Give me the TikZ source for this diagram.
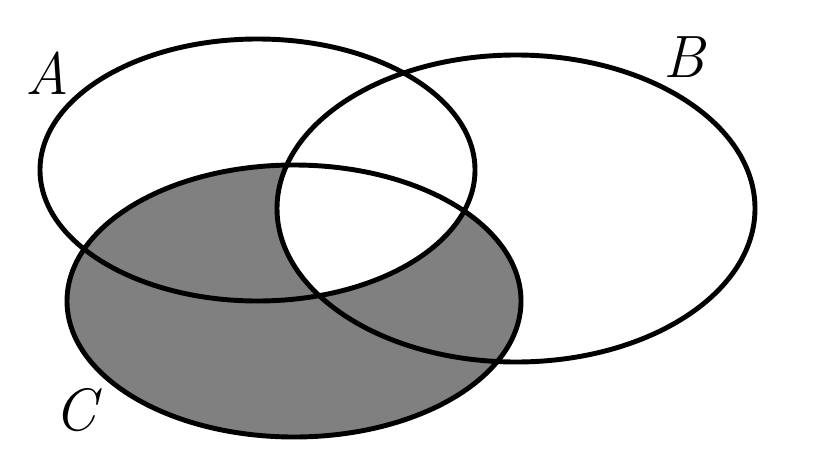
\documentclass[tikz,border=0pt]{standalone}
\usepackage{tikz}

\begin{document}
\begin{tikzpicture}[
		setline/.style={line width=2.8pt, color=black},
		setlabel/.style={font=\fontsize{34}{40}\selectfont\itshape, inner sep=0pt}
	]
			%%%%% START %%%%%
			\useasboundingbox (0, 0) rectangle (16.38, 9.2);
			
			% shaded part: C without the common part of A and B
			\fill[color=black!50] (5.88, 3.18) ellipse [x radius=4.54, y radius=2.72];
			\begin{scope}
				\clip (5.15, 5.80) ellipse [x radius=4.35, y radius=2.62];
				\fill[color=white] (10.32, 5.03) ellipse [x radius=4.78, y radius=3.07];
			\end{scope}
			
			\draw[setline] (5.15, 5.80) ellipse [x radius=4.35, y radius=2.62];
			\draw[setline] (10.32, 5.03) ellipse [x radius=4.78, y radius=3.07];
			\draw[setline] (5.88, 3.18) ellipse [x radius=4.54, y radius=2.72];
			
			\node[setlabel] (labelA) at (0.94, 7.74) {A};
			\node[setlabel] (labelB) at (13.68, 8.06) {B};
			\node[setlabel] (labelC) at (1.50, 1.00) {C};
			%%%%% END %%%%%
\end{tikzpicture}
\end{document}
